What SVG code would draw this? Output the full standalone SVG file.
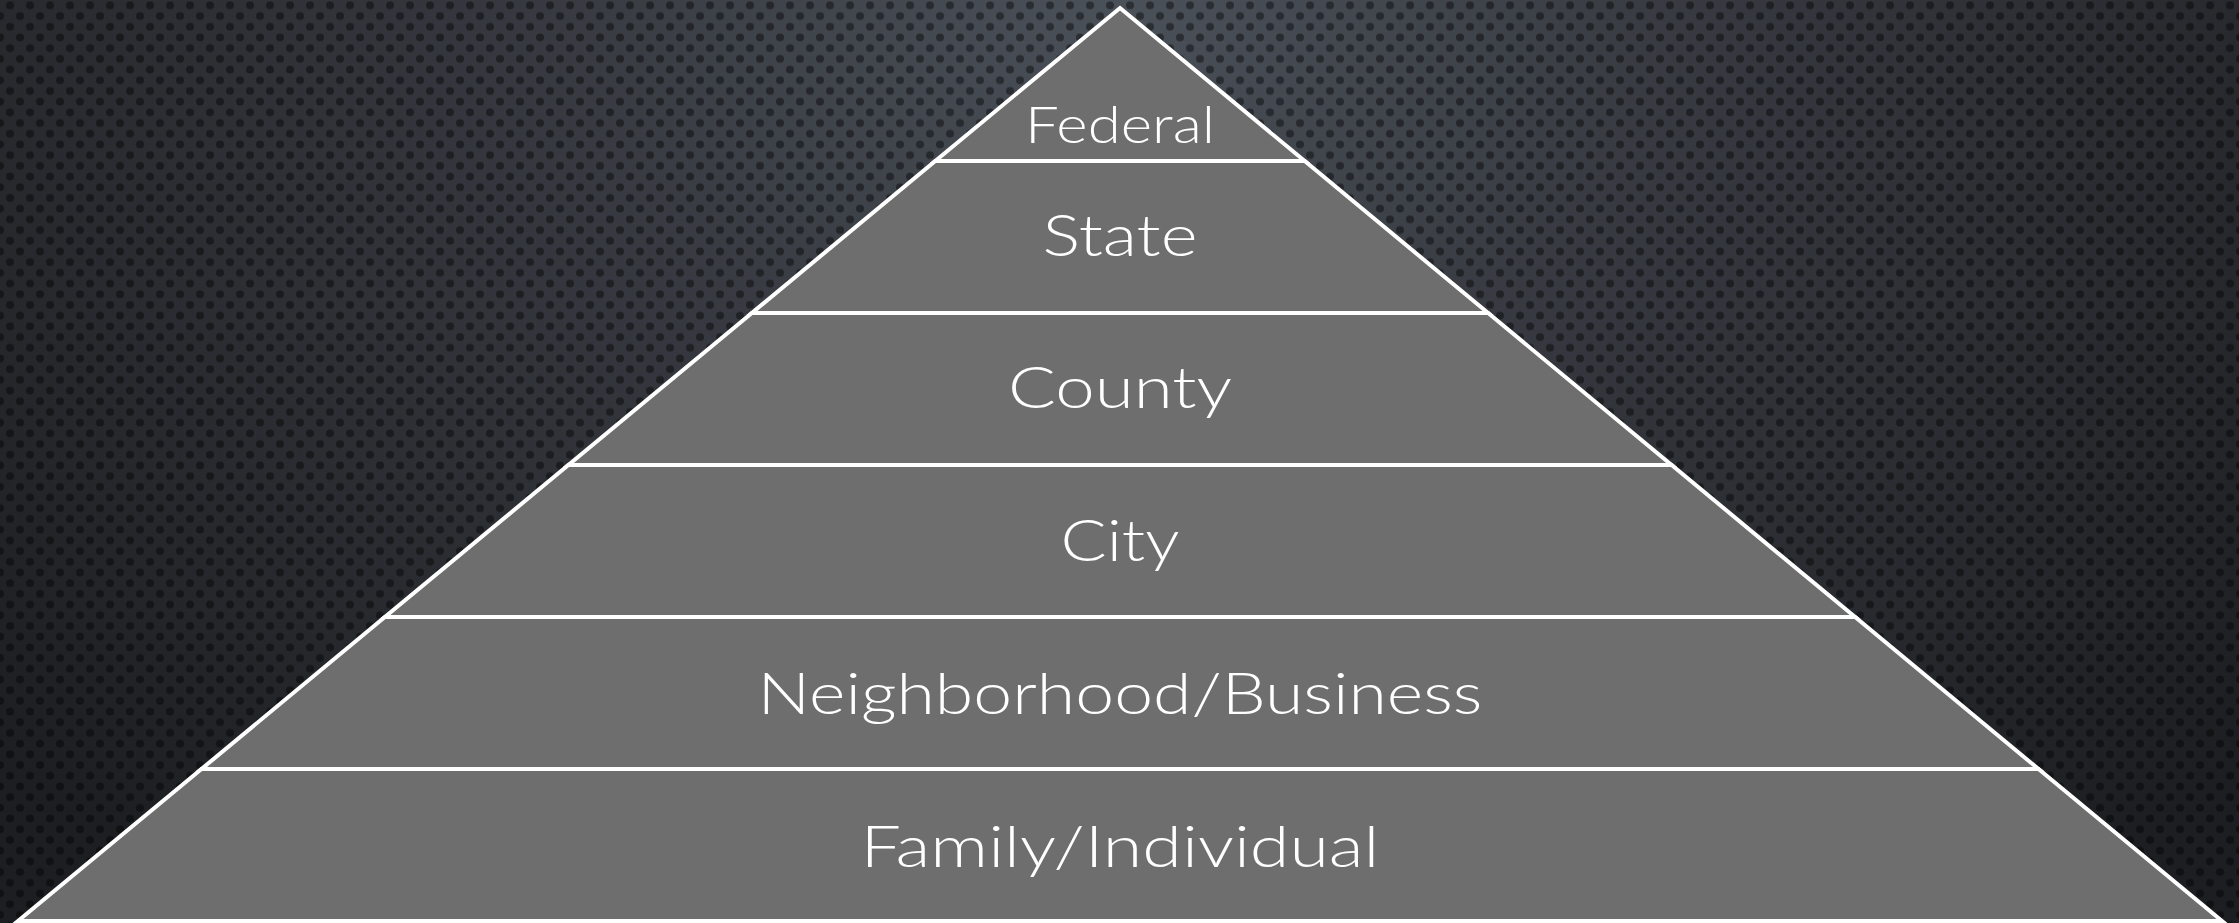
<svg xmlns="http://www.w3.org/2000/svg" width="2239" height="923" viewBox="0 0 2239 923">
  <defs>
    <radialGradient id="bg" cx="1120" cy="0" r="1500" gradientUnits="userSpaceOnUse" gradientTransform="translate(1120 0) scale(1 0.75) translate(-1120 0)">
      <stop offset="0" stop-color="#4b5159"/>
      <stop offset="0.45" stop-color="#33363c"/>
      <stop offset="1" stop-color="#1c1e21"/>
    </radialGradient>
    <pattern id="dots" width="20" height="21.4" patternUnits="userSpaceOnUse">
      <circle cx="10" cy="5.35" r="4" fill="#000" fill-opacity="0.42"/>
      <circle cx="0" cy="16.05" r="4" fill="#000" fill-opacity="0.42"/>
      <circle cx="20" cy="16.05" r="4" fill="#000" fill-opacity="0.42"/>
    </pattern>
    <style>
      .band { fill: #6e6e6e; stroke: #ffffff; stroke-width: 4; stroke-linejoin: miter; }
      .lbl { font-family: "Lato", "Liberation Sans", sans-serif; font-weight: 300; font-size: 58px; fill: #ffffff; text-anchor: middle; }
      .small { font-size: 52px; }
    </style>
  </defs>
  <rect x="0" y="0" width="2239" height="923" fill="url(#bg)"/>
  <rect x="0" y="0" width="2239" height="923" fill="url(#dots)"/>

  <g id="family">
    <polygon class="band" points="201.5,769 2038.5,769 2222,921 18,921"/>
    <text class="lbl" x="1120" y="867" textLength="519" lengthAdjust="spacingAndGlyphs">Family/Individual</text>
  </g>
  <g id="neighborhood">
    <polygon class="band" points="384.9,617 1855.1,617 2038.5,769 201.5,769"/>
    <text class="lbl" x="1120" y="714" textLength="725" lengthAdjust="spacingAndGlyphs">Neighborhood/Business</text>
  </g>
  <g id="city">
    <polygon class="band" points="568.4,465 1671.6,465 1855.1,617 384.9,617"/>
    <text class="lbl" x="1120" y="561" textLength="119" lengthAdjust="spacingAndGlyphs">City</text>
  </g>
  <g id="county">
    <polygon class="band" points="751.9,313 1488.1,313 1671.6,465 568.4,465"/>
    <text class="lbl" x="1120" y="408" textLength="224" lengthAdjust="spacingAndGlyphs">County</text>
  </g>
  <g id="state">
    <polygon class="band" points="935.3,161 1304.7,161 1488.1,313 751.9,313"/>
    <text class="lbl" x="1120" y="256" textLength="155" lengthAdjust="spacingAndGlyphs">State</text>
  </g>
  <g id="federal">
    <polygon class="band" points="1120,8 1304.7,161 935.3,161"/>
    <text class="lbl small" x="1120" y="143" textLength="190" lengthAdjust="spacingAndGlyphs">Federal</text>
  </g>
  <g id="connectors"/>
</svg>
